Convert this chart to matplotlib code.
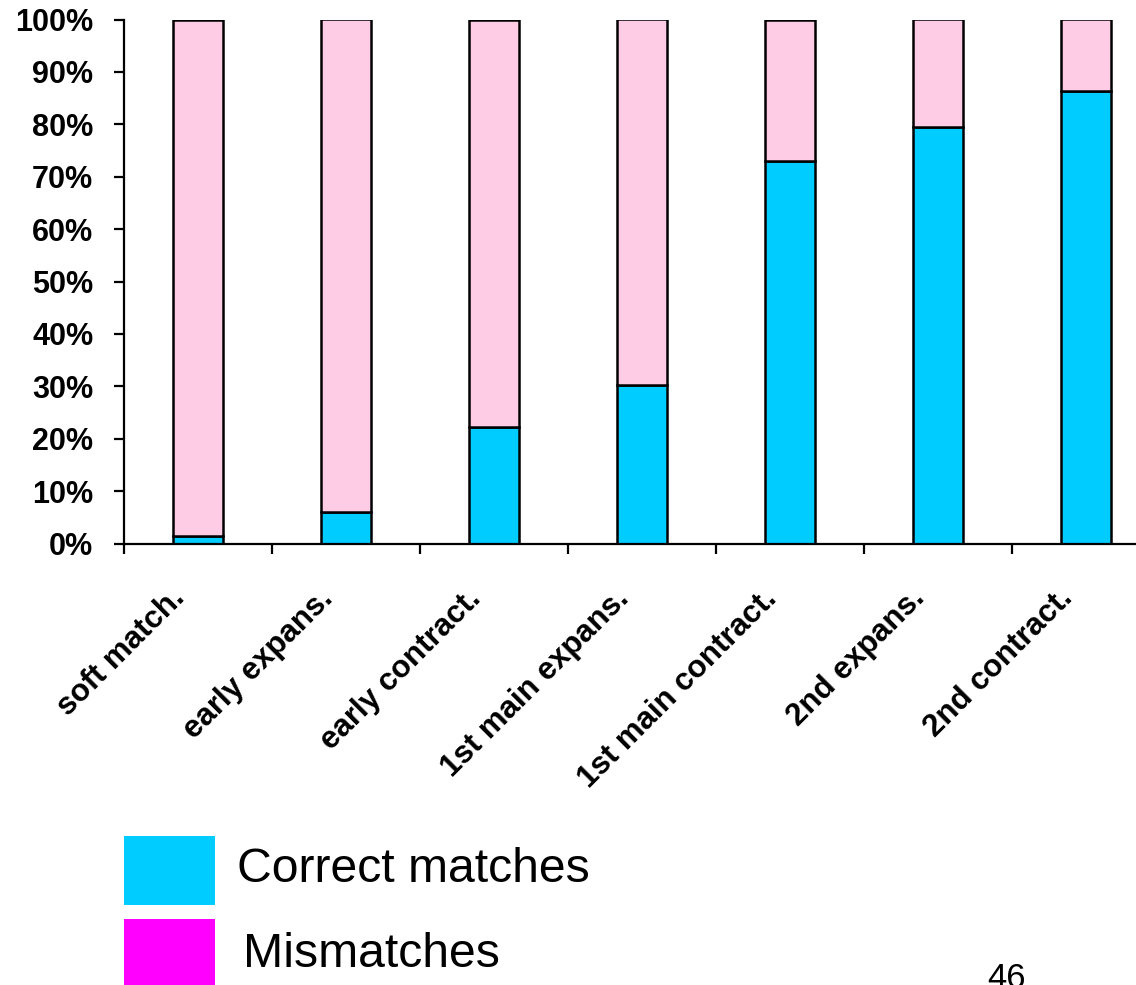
import matplotlib
matplotlib.use("Agg")
import matplotlib.pyplot as plt
from matplotlib import transforms
from matplotlib.patches import Rectangle
import numpy as np

# Stage names and share of correct matches (in %)
stages = ["soft match.", "early expans.", "early contract.", "1st main expans.",
          "1st main contract.", "2nd expans.", "2nd contract."]
correct = [1.5, 6.0, 22.3, 30.3, 73.0, 79.5, 86.4]
mismatch = [100 - c for c in correct]
y_ticks = [0, 10, 20, 30, 40, 50, 60, 70, 80, 90, 100]
legend_labels = ["Correct matches", "Mismatches"]
page_number = "46"

CYAN = "#00CCFF"
PINK = "#FFCCE6"
MAGENTA = "#FF00FF"

plt.rcParams["font.family"] = ["Liberation Sans", "DejaVu Sans"]

W, H = 1136, 985
fig = plt.figure(figsize=(W / 100, H / 100), dpi=100)

# Plot area (slightly wider than the canvas, so the last category is clipped)
left, right = 124 / W, 1160 / W
bottom, top = (H - 543.5) / H, (H - 19.5) / H
ax = fig.add_axes([left, bottom, right - left, top - bottom])

x = np.arange(len(stages))
bw = 50 / 148
ax.bar(x, correct, width=bw, color=CYAN, edgecolor="black", linewidth=1.8, zorder=3)
ax.bar(x, mismatch, width=bw, bottom=correct, color=PINK, edgecolor="black",
       linewidth=1.8, zorder=3)

ax.set_xlim(-0.5, len(stages) - 0.5)
ax.set_ylim(0, 100)

for s in ["top", "right"]:
    ax.spines[s].set_visible(False)
for s in ["left", "bottom"]:
    ax.spines[s].set_linewidth(1.6)
    ax.spines[s].set_zorder(4)

ax.set_yticks(y_ticks)
ax.set_yticklabels([f"{v}%" for v in y_ticks], fontsize=22, fontweight="bold")
ax.tick_params(axis="y", direction="out", length=7.2, width=1.6, pad=15)

ax.set_xticks(np.arange(-0.5, len(stages), 1.0))
ax.set_xticklabels([])
ax.tick_params(axis="x", direction="out", length=7.2, width=1.6)

# Rotated category labels, right end anchored below each bar
lab_tr = transforms.offset_copy(ax.transData, fig=fig, x=-12, y=-56, units="dots")
for xi, name in zip(x, stages):
    ax.text(xi, 0, name, transform=lab_tr, rotation=45, rotation_mode="anchor",
            ha="right", va="baseline", fontsize=22.5, fontweight="bold", clip_on=False)

# Legend drawn as boxes and labels in figure pixels
def fx(px):
    return px / W

def fy(py):
    return (H - py) / H

fig.patches.append(Rectangle((fx(124), fy(905)), fx(215) - fx(124), fy(836) - fy(905),
                             transform=fig.transFigure, facecolor=CYAN, edgecolor="none"))
fig.patches.append(Rectangle((fx(124), fy(990)), fx(215) - fx(124), fy(919) - fy(990),
                             transform=fig.transFigure, facecolor=MAGENTA, edgecolor="none"))
fig.text(fx(237), fy(882), legend_labels[0], fontsize=34.7, va="baseline", ha="left")
fig.text(fx(243), fy(967), legend_labels[1], fontsize=34.7, va="baseline", ha="left")

fig.text(fx(987), fy(988), page_number, fontsize=25, va="baseline", ha="left")

fig.savefig("out.png", dpi=100)
